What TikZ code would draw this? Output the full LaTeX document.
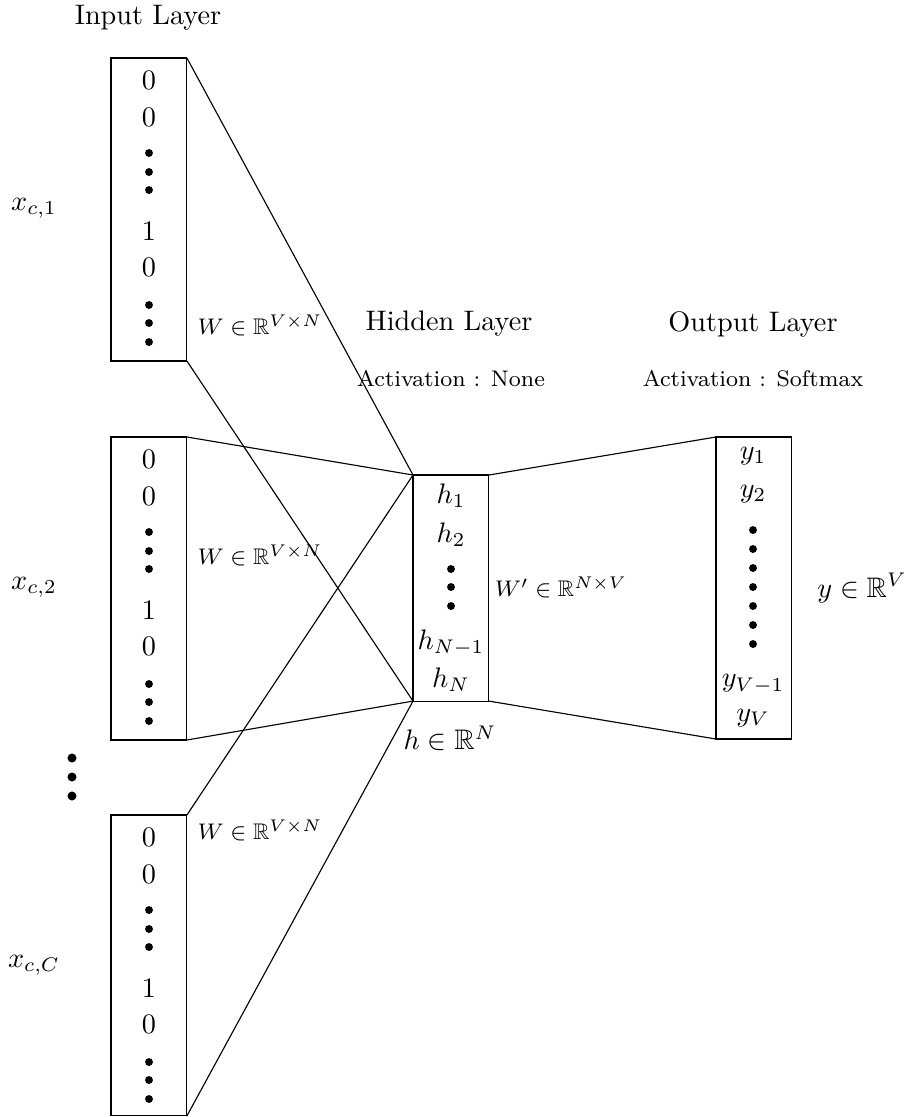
\documentclass[tikz,border=0pt]{standalone}
\usepackage{amssymb}
\begin{document}
\begin{tikzpicture}[x=0.3543pt,y=-0.3543pt,
  layerbox/.style={draw, inner sep=0pt, outer sep=0pt, anchor=north west, minimum width=26.9pt},
  entry/.style={inner sep=0pt},
  wlbl/.style={font=\footnotesize},
  actlbl/.style={font=\footnotesize},
  vdot/.style={circle, fill=black, inner sep=0pt, minimum size=2.8pt},
  bigdot/.style={circle, fill=black, inner sep=0pt, minimum size=3.2pt}]
\useasboundingbox (0,0) rectangle (912,1117);

% boxes
\node[layerbox, minimum height=107.35pt] (in1) at (111,58) {};
\node[layerbox, minimum height=107.35pt] (in2) at (111,437) {};
\node[layerbox, minimum height=106.6pt] (in3) at (111,815) {};
\node[layerbox, minimum height=80.1pt] (hid) at (413,475) {};
\node[layerbox, minimum height=107.0pt, minimum width=26.6pt] (out) at (716,437) {};

% connectors
\draw (in1.north east) -- (hid.north west);
\draw (in1.south east) -- (hid.south west);
\draw (in2.north east) -- (hid.north west);
\draw (in2.south east) -- (hid.south west);
\draw (in3.north east) -- (hid.north west);
\draw (in3.south east) -- (hid.south west);
\draw (hid.north east) -- (out.north west);
\draw (hid.south east) -- (out.south west);

% input entries
\foreach \k/\off in {1/0, 2/379, 3/757}{
  \node[entry] (z\k a) at (149,80+\off) {$0$};
  \node[entry] (z\k b) at (149,117+\off) {$0$};
  \node[vdot] (d\k a) at (149,153+\off) {};
  \node[vdot] (d\k b) at (149,172+\off) {};
  \node[vdot] (d\k c) at (149,190+\off) {};
  \node[entry] (o\k) at (149,231+\off) {$1$};
  \node[entry] (z\k c) at (149,267+\off) {$0$};
  \node[vdot] (d\k d) at (149,305+\off) {};
  \node[vdot] (d\k e) at (149,323+\off) {};
  \node[vdot] (d\k f) at (149,342+\off) {};
}

% hidden entries
\node (h1) at (451,496) {$h_1$};
\node (h2) at (451,535) {$h_2$};
\node[vdot] (hd1) at (451,569) {};
\node[vdot] (hd2) at (451,587) {};
\node[vdot] (hd3) at (451,606) {};
\node (hN1) at (451,643) {$h_{N-1}$};
\node (hN) at (451,680) {$h_N$};

% output entries
\node (y1) at (753,456) {$y_1$};
\node (y2) at (753,494) {$y_2$};
\foreach \i/\yy in {1/530,2/549,3/568,4/587,5/606,6/625,7/644}{
  \node[vdot] (yd\i) at (753,\yy) {};
}
\node (yV1) at (753,684) {$y_{V-1}$};
\node (yV) at (753,718) {$y_V$};

% between-box dots
\node[bigdot] (bd1) at (72,758) {};
\node[bigdot] (bd2) at (72,777) {};
\node[bigdot] (bd3) at (72,796) {};

% labels
\node (inlbl) at (148,18) {Input Layer};
\node (xc1) at (34,208) {$x_{c,1}$};
\node (xc2) at (34,587) {$x_{c,2}$};
\node (xcC) at (34,965) {$x_{c,C}$};
\node[wlbl] (w1) at (260,325) {$W\in\mathbb{R}^{V\times N}$};
\node[wlbl] (w2) at (260,555) {$W\in\mathbb{R}^{V\times N}$};
\node[wlbl] (w3) at (260,830) {$W\in\mathbb{R}^{V\times N}$};
\node (hidlbl) at (449,324) {Hidden Layer};
\node[actlbl] (hidact) at (451,379) {Activation : None};
\node (outlbl) at (753,324) {Output Layer};
\node[actlbl] (outact) at (753,379) {Activation : Softmax};
\node[wlbl] (wp) at (561,587) {$W'\in\mathbb{R}^{N\times V}$};
\node (hlbl) at (450,738) {$h\in\mathbb{R}^N$};
\node (ylbl) at (862,588) {$y\in\mathbb{R}^V$};
\end{tikzpicture}
\end{document}
